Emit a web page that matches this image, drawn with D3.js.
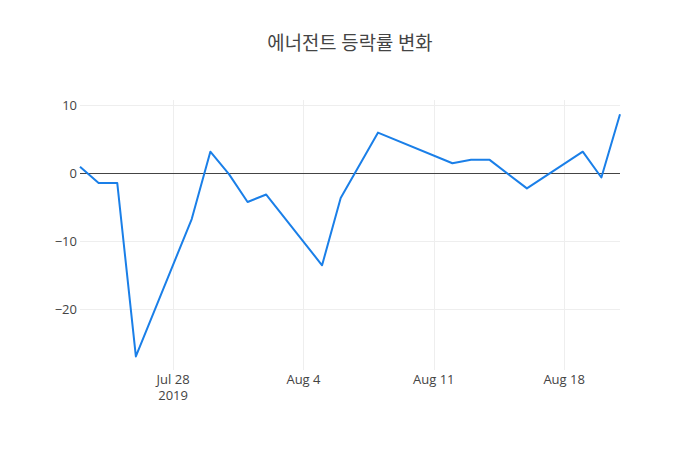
<!DOCTYPE html>
<html>
<head>
<meta charset="utf-8">
<script src="https://cdn.jsdelivr.net/npm/d3@7"></script>
<style>
  body { margin: 0; background: #fff; }
  text { font-family: "Open Sans", "Noto Sans CJK KR", sans-serif; fill: #444; }
</style>
</head>
<body>
<div id="chart"></div>
<script>
// trading days and daily change (%)
var dates = ["2019-07-23","2019-07-24","2019-07-25","2019-07-26","2019-07-29","2019-07-30",
             "2019-07-31","2019-08-01","2019-08-02","2019-08-05","2019-08-06","2019-08-08",
             "2019-08-12","2019-08-13","2019-08-14","2019-08-16","2019-08-19","2019-08-20",
             "2019-08-21"]
var changes = [1.0, -1.4, -1.4, -26.9, -6.7, 3.2,
               -0.1, -4.2, -3.1, -13.5, -3.6, 6.0,
               1.5, 2.0, 2.0, -2.2, 3.2, -0.6,
               8.7]
var yTicks = [-20, -10, 0, 10]
var xTicks = ["2019-07-28", "2019-08-04", "2019-08-11", "2019-08-18"]
var title = "에너전트 등락률 변화"

var width = 700,
    height = 450
var margin = {top: 100, right: 80, bottom: 80, left: 80}
var parse = d3.timeParse("%Y-%m-%d")

var data = dates.map(function(d, i){ return {date: parse(d), value: changes[i]} })

var svg = d3.select("#chart").append("svg")
            .attr("width", width)
            .attr("height", height)

var x = d3.scaleTime()
          .domain(d3.extent(data, function(d){ return d.date }))
          .range([margin.left, width - margin.right])

var y = d3.scaleLinear()
          .domain([-28.9, 10.8])
          .range([height - margin.bottom, margin.top])

// grid
svg.append("g")
   .selectAll("line.vgrid")
   .data(xTicks.map(parse))
   .enter().append("line")
   .attr("x1", function(d){ return Math.round(x(d)) + 0.5 })
   .attr("x2", function(d){ return Math.round(x(d)) + 0.5 })
   .attr("y1", margin.top)
   .attr("y2", height - margin.bottom)
   .style("stroke", "#eee")
   .style("stroke-width", 1)

svg.append("g")
   .selectAll("line.hgrid")
   .data(yTicks.filter(function(t){ return t !== 0 }))
   .enter().append("line")
   .attr("x1", margin.left)
   .attr("x2", width - margin.right)
   .attr("y1", function(d){ return Math.round(y(d)) + 0.5 })
   .attr("y2", function(d){ return Math.round(y(d)) + 0.5 })
   .style("stroke", "#eee")
   .style("stroke-width", 1)

// zero line
svg.append("line")
   .attr("x1", margin.left)
   .attr("x2", width - margin.right)
   .attr("y1", Math.round(y(0)) + 0.5)
   .attr("y2", Math.round(y(0)) + 0.5)
   .style("stroke", "#444")
   .style("stroke-width", 1)

// y tick labels
var fmtY = function(v){ return v < 0 ? "\u2212" + Math.abs(v) : String(v) }
svg.append("g")
   .selectAll("text")
   .data(yTicks)
   .enter().append("text")
   .attr("x", margin.left - 3)
   .attr("y", function(d){ return y(d) })
   .attr("dy", "0.36em")
   .attr("text-anchor", "end")
   .style("font-size", "13px")
   .text(fmtY)

// x tick labels
var fmtX = d3.timeFormat("%b %-d")
var xt = svg.append("g")
   .selectAll("text")
   .data(xTicks.map(parse))
   .enter().append("text")
   .attr("x", function(d){ return x(d) })
   .attr("y", height - margin.bottom + 13.5)
   .attr("text-anchor", "middle")
   .style("font-size", "13px")
xt.append("tspan").text(fmtX)
xt.filter(function(d, i){ return i === 0 })
  .append("tspan")
  .attr("x", function(d){ return x(d) })
  .attr("dy", "1.25em")
  .text("2019")

// the line
var line = d3.line()
             .x(function(d){ return x(d.date) })
             .y(function(d){ return y(d.value) })

svg.append("path")
   .datum(data)
   .attr("d", line)
   .style("fill", "none")
   .style("stroke", "#1a7fe8")
   .style("stroke-width", 2)
   .style("stroke-linejoin", "round")

// title
svg.append("text")
   .attr("x", width / 2)
   .attr("y", 49.5)
   .attr("text-anchor", "middle")
   .style("font-size", "18.8px")
   .text(title)
</script>
</body>
</html>
